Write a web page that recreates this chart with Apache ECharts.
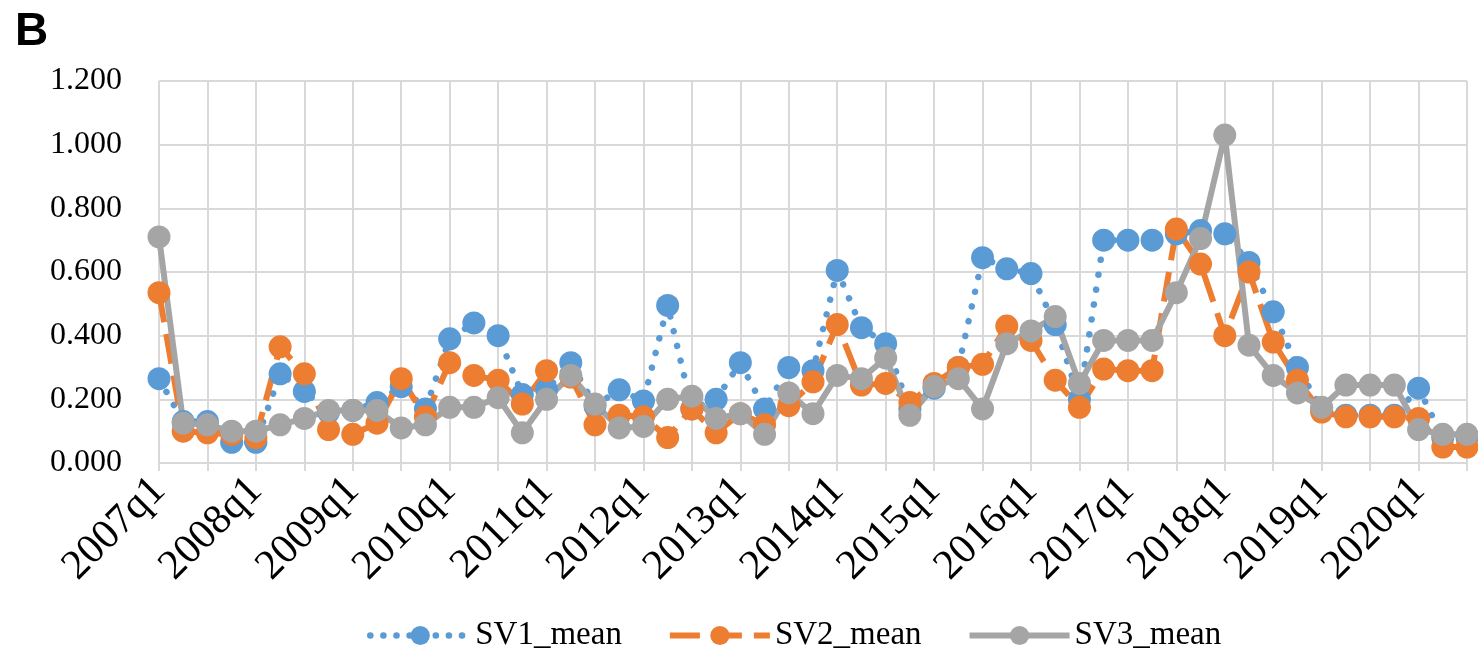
<!DOCTYPE html>
<html>
<head>
<meta charset="utf-8">
<script src="https://cdn.jsdelivr.net/npm/echarts@6/dist/echarts.min.js"></script>
<style>
html,body{margin:0;padding:0;background:#fff;}
#chart{width:1478px;height:651px;}
</style>
</head>
<body>
<div id="chart"></div>
<script>
// ---- data ----
const years = [2007,2008,2009,2010,2011,2012,2013,2014,2015,2016,2017,2018,2019,2020];
const quarters = [];
years.forEach(y => { for (let q = 1; q <= 4; q++) quarters.push(y + 'q' + q); });
const categories = quarters.slice(0, 55); // 2007q1 .. 2020q3

const sv1Mean = [0.265,0.13,0.13,0.065,0.065,0.28,0.225,0.16,0.165,0.19,
  0.24,0.17,0.39,0.44,0.40,0.215,0.23,0.315,0.18,0.23,
  0.195,0.495,0.17,0.20,0.315,0.17,0.30,0.29,0.605,0.425,
  0.375,0.17,0.235,0.30,0.645,0.61,0.595,0.435,0.20,0.70,
  0.70,0.70,0.72,0.73,0.72,0.63,0.475,0.30,0.17,0.15,
  0.15,0.15,0.235,0.08,0.08];
const sv2Mean = [0.535,0.10,0.095,0.09,0.08,0.365,0.28,0.105,0.09,0.125,
  0.265,0.145,0.315,0.275,0.26,0.185,0.29,0.27,0.12,0.15,
  0.145,0.08,0.17,0.095,0.155,0.12,0.18,0.255,0.435,0.245,
  0.25,0.19,0.25,0.30,0.31,0.43,0.385,0.26,0.175,0.295,
  0.29,0.29,0.735,0.625,0.40,0.60,0.38,0.26,0.16,0.145,
  0.145,0.145,0.14,0.05,0.05];
const sv3Mean = [0.71,0.125,0.12,0.10,0.10,0.12,0.14,0.165,0.165,0.165,
  0.11,0.12,0.175,0.175,0.205,0.095,0.20,0.275,0.185,0.11,
  0.115,0.20,0.21,0.14,0.155,0.09,0.22,0.155,0.275,0.265,
  0.33,0.15,0.24,0.265,0.17,0.375,0.415,0.46,0.25,0.385,
  0.385,0.385,0.535,0.705,1.03,0.37,0.275,0.22,0.175,0.245,
  0.245,0.245,0.105,0.09,0.09];
const seriesNames = ['SV1_mean','SV2_mean','SV3_mean'];
const yTicks = [0, 0.2, 0.4, 0.6, 0.8, 1.0, 1.2];

// ---- chart ----
const FONT = "'Liberation Serif', 'Times New Roman', serif";
const chart = echarts.init(document.getElementById('chart'), null, {renderer: 'canvas'});
const gridColor = '#d9d9d9';
const colors = ['#5B9BD5', '#ED7D31', '#A5A5A5'];
const lineTypes = [[0.1, 15], [30, 12], 'solid'];
const lineWidths = [6.5, 6, 6];

chart.setOption({
  animation: false,
  backgroundColor: '#ffffff',
  title: {
    text: 'B',
    left: 10, top: 4,
    textStyle: {fontFamily: "'Liberation Sans', Arial, sans-serif", fontWeight: 'bold', fontSize: 46, color: '#000'}
  },
  legend: {
    data: seriesNames.map((n, i) => ({
      name: n,
      lineStyle: {color: colors[i], width: lineWidths[i], type: i === 0 ? [0.1, 13] : lineTypes[i], cap: i === 0 ? 'round' : 'butt'}
    })),
    top: 614,
    left: 362,
    itemWidth: 100,
    itemHeight: 24,
    itemGap: 45,
    textStyle: {fontFamily: FONT, fontSize: 33, color: '#000'}
  },
  grid: {left: 159, right: 11, top: 81, bottom: 188, containLabel: false},
  xAxis: {
    type: 'category',
    data: categories,
    boundaryGap: false,
    axisLine: {show: true, lineStyle: {color: gridColor, width: 2}},
    axisTick: {show: true, interval: 1, length: 8, lineStyle: {color: gridColor, width: 2}},
    splitLine: {show: true, interval: 1, lineStyle: {color: gridColor, width: 2}},
    axisLabel: {
      interval: 3, rotate: 45, margin: 21,
      fontFamily: FONT, fontSize: 42, color: '#000'
    }
  },
  yAxis: {
    type: 'value',
    min: yTicks[0], max: yTicks[yTicks.length - 1], interval: 0.2,
    axisLine: {show: false},
    axisTick: {show: false},
    splitLine: {show: true, lineStyle: {color: gridColor, width: 2}},
    axisLabel: {
      margin: 37,
      fontFamily: FONT, fontSize: 32, color: '#000',
      formatter: v => v.toFixed(3)
    }
  },
  series: [sv1Mean, sv2Mean, sv3Mean].map((d, i) => ({
    name: seriesNames[i], type: 'line', data: d,
    symbol: 'circle', symbolSize: 23, showAllSymbol: true,
    itemStyle: {color: colors[i]},
    lineStyle: {color: colors[i], width: lineWidths[i], type: lineTypes[i], cap: i === 0 ? 'round' : 'butt'},
    emphasis: {disabled: true}
  }))
});
</script>
</body>
</html>
